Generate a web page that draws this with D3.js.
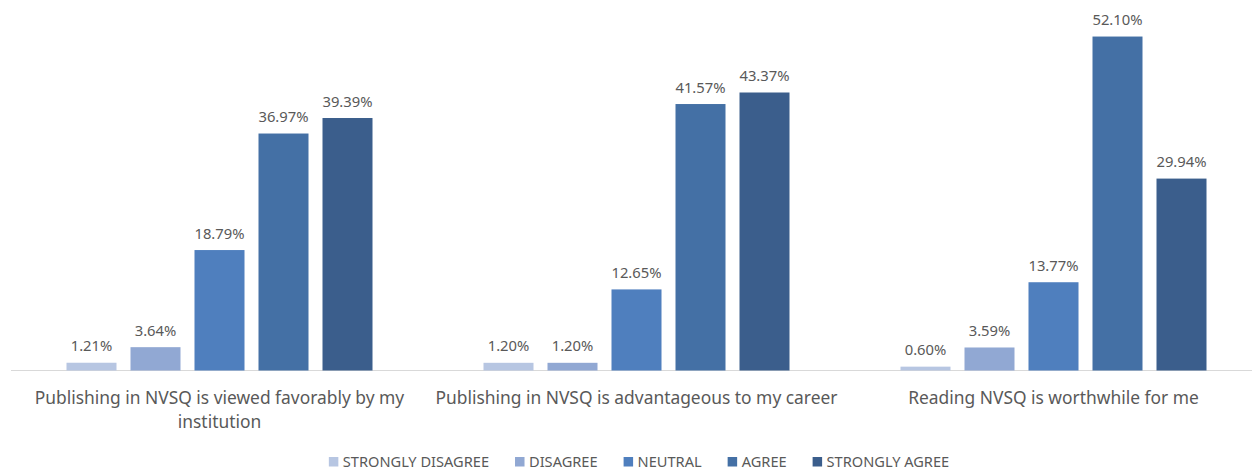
<!DOCTYPE html>
<html>
<head>
<meta charset="utf-8">
<script src="https://cdn.jsdelivr.net/npm/d3@7"></script>
<style>
  html, body { margin: 0; padding: 0; background: #ffffff; }
  svg { display: block; font-family: "Noto Sans", "Open Sans", sans-serif; }
</style>
</head>
<body>
<svg id="chart" width="1252" height="470"></svg>
<script>
const categories = [
  "Publishing in NVSQ is viewed favorably by my institution",
  "Publishing in NVSQ is advantageous to my career",
  "Reading NVSQ is worthwhile for me"
];
const seriesNames = ["STRONGLY DISAGREE", "DISAGREE", "NEUTRAL", "AGREE", "STRONGLY AGREE"];
const stronglyDisagree = [1.21, 1.20, 0.60];
const disagree = [3.64, 1.20, 3.59];
const neutral = [18.79, 12.65, 13.77];
const agree = [36.97, 41.57, 52.10];
const stronglyAgree = [39.39, 43.37, 29.94];
const seriesColors = ["#b7c6e2", "#91a8d3", "#4f7fbe", "#4470a5", "#3b5e8c"];

const seriesValues = [stronglyDisagree, disagree, neutral, agree, stronglyAgree];

const svg = d3.select("#chart");
const baseY = 370.5;

const x0 = d3.scaleBand().domain(categories).range([11, 1262]).paddingInner(0).paddingOuter(0);
const x1 = d3.scaleBand().domain(seriesNames).range([55.5, 417 - 55.5]).paddingInner(14 / 64).paddingOuter(0);
const y = d3.scaleLinear().domain([0, 55]).range([baseY, baseY - 55 * 6.41]);

// baseline
svg.append("line")
  .attr("x1", 11).attr("x2", 1252)
  .attr("y1", baseY).attr("y2", baseY)
  .attr("stroke", "#d9d9d9").attr("stroke-width", 1.2);

const groups = svg.selectAll("g.cat")
  .data(categories)
  .enter().append("g")
  .attr("class", "cat")
  .attr("transform", d => `translate(${x0(d)},0)`);

groups.each(function(cat, ci) {
  const g = d3.select(this);
  const rows = seriesNames.map((s, si) => ({ s, v: seriesValues[si][ci], c: seriesColors[si] }));
  g.selectAll("rect").data(rows).enter().append("rect")
    .attr("x", d => x1(d.s))
    .attr("width", x1.bandwidth())
    .attr("y", d => y(d.v))
    .attr("height", d => baseY - y(d.v))
    .attr("fill", d => d.c);
  g.selectAll("text.val").data(rows).enter().append("text")
    .attr("class", "val")
    .attr("x", d => x1(d.s) + x1.bandwidth() / 2)
    .attr("y", d => y(d.v) - 11.5)
    .attr("text-anchor", "middle")
    .attr("font-size", 14.8)
    .attr("fill", "#595959")
    .text(d => d.v.toFixed(2) + "%");
});

// category labels with wrapping
const maxW = x0.bandwidth() - 10;
categories.forEach(cat => {
  const cx = x0(cat) + x0.bandwidth() / 2;
  const t = svg.append("text")
    .attr("text-anchor", "middle")
    .attr("font-size", 17.4)
    .attr("fill", "#595959");
  const words = cat.split(" ");
  let line = [];
  let lineNo = 0;
  let tspan = t.append("tspan").attr("x", cx).attr("y", 404);
  words.forEach(w => {
    line.push(w);
    tspan.text(line.join(" "));
    if (tspan.node().getComputedTextLength() > maxW && line.length > 1) {
      line.pop();
      tspan.text(line.join(" "));
      line = [w];
      lineNo++;
      tspan = t.append("tspan").attr("x", cx).attr("y", 404 + lineNo * 24).text(w);
    }
  });
});

// legend: laid out from measured text widths, centred
const legend = svg.append("g");
const sq = 9.5, sqGap = 4.5, itemGap = 26;
const items = seriesNames.map((s, i) => {
  const g = legend.append("g");
  g.append("rect")
    .attr("x", 0).attr("y", 457)
    .attr("width", sq).attr("height", sq)
    .attr("fill", seriesColors[i]);
  const tx = g.append("text")
    .attr("x", sq + sqGap).attr("y", 467)
    .attr("font-size", 14.6)
    .attr("fill", "#595959")
    .text(s);
  return { g, w: sq + sqGap + tx.node().getComputedTextLength() };
});
const total = d3.sum(items, d => d.w) + itemGap * (items.length - 1);
let cursor = 639 - total / 2;
items.forEach(it => {
  it.g.attr("transform", `translate(${cursor},0)`);
  cursor += it.w + itemGap;
});
</script>
</body>
</html>
